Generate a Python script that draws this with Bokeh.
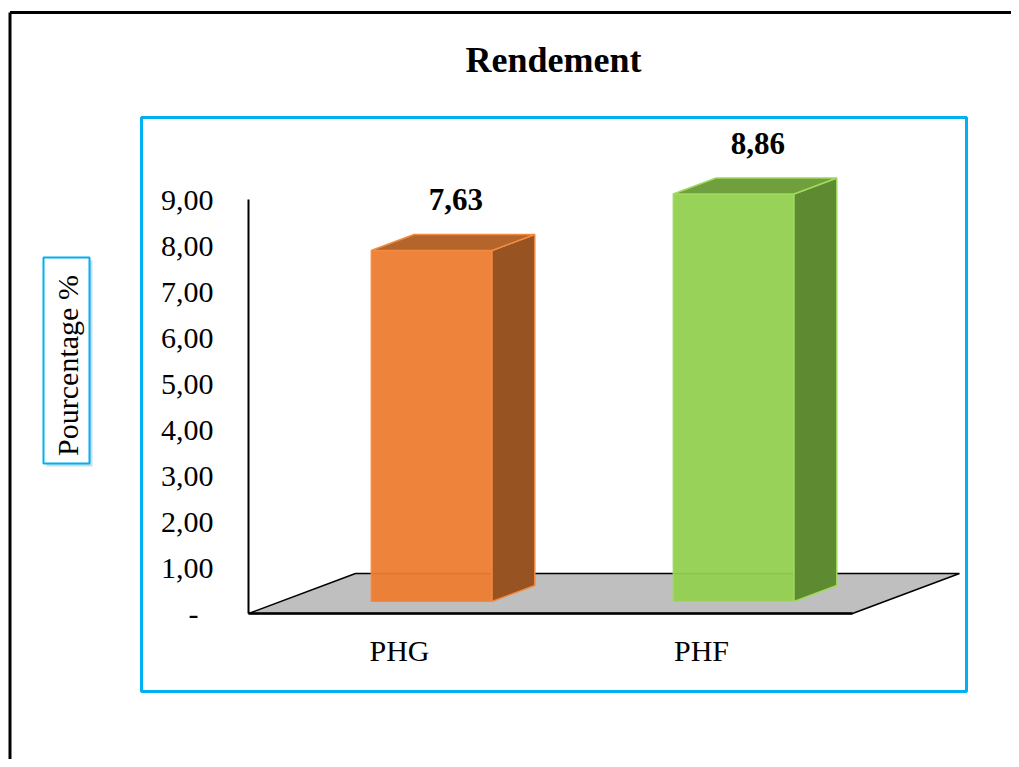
import numpy as np
from bokeh.plotting import figure
from bokeh.models import Range1d, FixedTicker
from bokeh.core.properties import value
from bokeh.embed import file_html
from bokeh.resources import INLINE

# ---------------- data ----------------
categories = ["PHG", "PHF"]
values = [7.63, 8.86]
value_labels = ["7,63", "8,86"]
y_ticks = [0, 1, 2, 3, 4, 5, 6, 7, 8, 9]
y_tick_labels = ["-\u00a0\u00a0", "1,00", "2,00", "3,00", "4,00", "5,00",
                 "6,00", "7,00", "8,00", "9,00"]
title_text = "Rendement"
y_title = "Pourcentage %"

front_colors = ["#ED7D31", "#92D050"]
side_colors = ["#985323", "#5E8A32"]
top_colors = ["#B4652B", "#70A03E"]
edge_colors = ["#F28B3F", "#9FD95E"]

# ---------------- layout constants ----------------
W, H = 1011, 759
M = 0                      # observed canvas offset on the page
X0_PAGE, Y0_PAGE = 248, 613  # page pixel of data origin
SX, SY = 302.0, 46.0       # pixels per data unit
FONT = "Liberation Serif"


def dx(px):
    return (px - X0_PAGE) / SX


def dy(py):
    return (Y0_PAGE - py) / SY


p = figure(width=W, height=H, output_backend="svg", toolbar_location=None,
           x_range=Range1d(dx(M), dx(M + W)), y_range=Range1d(dy(M + H), dy(M)),
           min_border=0, outline_line_color=None,
           background_fill_color="white", border_fill_color="white")
p.xgrid.visible = False
p.ygrid.visible = False

# ---------------- decorations ----------------
# outer black border (left + top, extends past the window)
p.multi_line(xs=[[dx(9.5), dx(9.5)], [dx(9.5), dx(1030)]],
             ys=[[dy(12), dy(800)], [dy(12), dy(12)]],
             line_color="black", line_width=3)
# blue plot-area frame
p.rect(x=[dx(553.5)], y=[dy(404)], width=825, height=574,
       width_units="screen", height_units="screen",
       fill_color=None, line_color="#00B0F0", line_width=3)

# title
p.text(x=[dx(553)], y=[dy(59)], text=[title_text], text_font=value(FONT),
       text_font_style="bold", text_font_size="36px", text_color="black",
       text_align="center", text_baseline="middle")

# y-axis title in a box with a soft shadow
p.rect(x=[dx(69)], y=[dy(363)], width=46, height=206,
       width_units="screen", height_units="screen",
       fill_color="#9DC3E6", fill_alpha=0.55, line_color=None)
p.rect(x=[dx(66)], y=[dy(360)], width=46, height=206,
       width_units="screen", height_units="screen",
       fill_color="white", line_color="#00B0F0", line_width=2)
p.text(x=[dx(67)], y=[dy(365)], text=[y_title], angle=np.pi / 2,
       text_font=value(FONT), text_font_size="30px", text_color="black",
       text_align="center", text_baseline="middle")

# ---------------- 3D geometry ----------------
n = len(categories)
DDX, DDY = 107 / SX, 40 / SY   # full floor depth
F0, F1 = 0.3, 0.7              # bar front / back depth fractions
HW = 0.2                       # half bar width (category units)

# floor
p.patch([0, n, n + DDX, DDX], [0, 0, DDY, DDY],
        fill_color="#BFBFBF", line_color="black", line_width=1.5)

centers = [i + 0.5 for i in range(n)]
lefts = [c + F0 * DDX - HW for c in centers]
rights = [c + F0 * DDX + HW for c in centers]
base = F0 * DDY
tops = [base + v for v in values]
ddx, ddy = (F1 - F0) * DDX, (F1 - F0) * DDY

side_xs = [[r, r + ddx, r + ddx, r] for r in rights]
side_ys = [[base, base + ddy, t + ddy, t] for t in tops]
top_xs = [[l, r, r + ddx, l + ddx] for l, r in zip(lefts, rights)]
top_ys = [[t, t, t + ddy, t + ddy] for t in tops]

p.quad(left=lefts, right=rights, bottom=[base] * n, top=tops,
       fill_color=front_colors, fill_alpha=0.95, line_color=edge_colors,
       line_width=1.2)
p.patches(side_xs, side_ys, fill_color=side_colors, line_color=edge_colors,
          line_width=1.5)
p.patches(top_xs, top_ys, fill_color=top_colors, line_color=edge_colors,
          line_width=1.5)

# value labels
p.text(x=[c + F0 * DDX + 0.08 for c in centers], y=[t + 1.1 for t in tops],
       text=value_labels, text_font=value(FONT), text_font_style="bold",
       text_font_size="31px", text_color="black",
       text_align="center", text_baseline="middle")

# ---------------- axes ----------------
ya = p.yaxis[0]
ya.fixed_location = 0
ya.bounds = (0, 9)
ya.ticker = FixedTicker(ticks=y_ticks)
ya.major_label_overrides = {t: l for t, l in zip(y_ticks, y_tick_labels)}
ya.axis_line_color = "black"
ya.axis_line_width = 2
ya.major_tick_line_color = None
ya.minor_tick_line_color = None
ya.major_tick_out = 0
ya.major_tick_in = 0
ya.major_label_standoff = 35
ya.major_label_text_font = FONT
ya.major_label_text_font_size = "30px"
ya.major_label_text_color = "black"

xa = p.xaxis[0]
xa.fixed_location = 0
xa.bounds = (0, n)
xa.ticker = FixedTicker(ticks=centers)
xa.major_label_overrides = {c: cat for c, cat in zip(centers, categories)}
xa.axis_line_color = "black"
xa.axis_line_width = 2.5
xa.major_tick_line_color = None
xa.minor_tick_line_color = None
xa.major_tick_out = 0
xa.major_tick_in = 0
xa.major_label_standoff = 20
xa.major_label_text_font = FONT
xa.major_label_text_font_size = "30px"
xa.major_label_text_color = "black"

open("out.html", "w").write(file_html(p, INLINE))
